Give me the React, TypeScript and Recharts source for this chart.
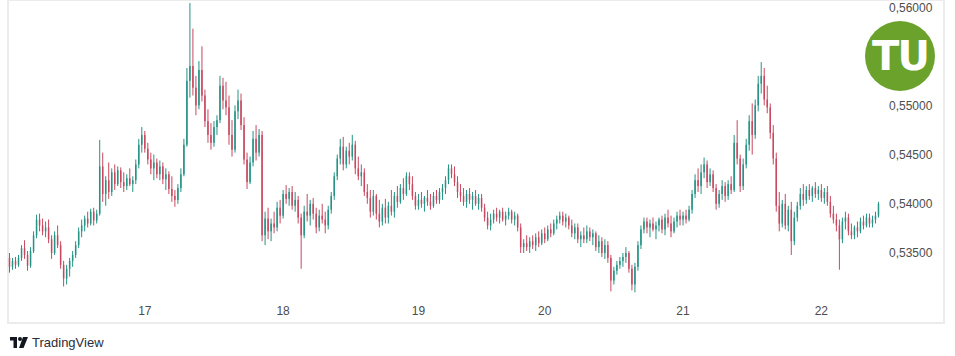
import { Bar, ComposedChart, XAxis, YAxis } from "recharts";

// [open, high, low, close]
type Candle = [number, number, number, number];

const day16: Candle[] = [
  [0.5345, 0.535, 0.533, 0.5336], [0.5336, 0.5345, 0.5333, 0.5342], [0.5342, 0.5346, 0.5334, 0.5338],
  [0.5338, 0.5348, 0.5336, 0.5345], [0.5345, 0.5358, 0.5342, 0.5355], [0.5355, 0.5363, 0.5344, 0.5348],
  [0.5348, 0.5352, 0.5332, 0.5337], [0.5337, 0.5356, 0.5335, 0.5352], [0.5352, 0.5372, 0.535, 0.5368],
  [0.5368, 0.5389, 0.5365, 0.5384], [0.5384, 0.539, 0.5372, 0.5378], [0.5378, 0.5385, 0.5368, 0.5372],
  [0.5372, 0.5382, 0.5366, 0.5376], [0.5376, 0.5384, 0.536, 0.5364], [0.5364, 0.5368, 0.5344, 0.535],
  [0.535, 0.5372, 0.5348, 0.5368], [0.5368, 0.5378, 0.5355, 0.5358], [0.5358, 0.5362, 0.5334, 0.5338],
  [0.5338, 0.5342, 0.5316, 0.5324], [0.5324, 0.5338, 0.5318, 0.5334], [0.5334, 0.5345, 0.5326, 0.5342],
  [0.5342, 0.5352, 0.5336, 0.5348], [0.5348, 0.5362, 0.5345, 0.5358], [0.5358, 0.5376, 0.5355, 0.5372],
  [0.5372, 0.5384, 0.5366, 0.5378], [0.5378, 0.5388, 0.5372, 0.5385], [0.5385, 0.5392, 0.5376, 0.538],
  [0.538, 0.5395, 0.5378, 0.5392], [0.5392, 0.5396, 0.5378, 0.5383], [0.5383, 0.5394, 0.538, 0.539],
  [0.539, 0.5465, 0.5388, 0.5438], [0.5438, 0.5452, 0.5402, 0.541], [0.541, 0.5428, 0.5398, 0.5424],
  [0.5424, 0.5442, 0.5405, 0.5412], [0.5412, 0.5436, 0.5408, 0.5432], [0.5432, 0.544, 0.5414, 0.542],
  [0.542, 0.5438, 0.5418, 0.5434], [0.5434, 0.5437, 0.5416, 0.5422], [0.5422, 0.5432, 0.5412, 0.5418],
  [0.5418, 0.543, 0.5414, 0.5426], [0.5426, 0.5436, 0.5418, 0.542], [0.542, 0.5428, 0.5412, 0.5424],
  [0.5424, 0.5445, 0.542, 0.544], [0.544, 0.5466, 0.5436, 0.546], [0.546, 0.5478, 0.5452, 0.547],
];

const day17: Candle[] = [
  [0.547, 0.5474, 0.5452, 0.5456], [0.5456, 0.5462, 0.544, 0.5445], [0.5445, 0.5452, 0.543, 0.5436],
  [0.5436, 0.545, 0.5424, 0.5442], [0.5442, 0.5446, 0.5426, 0.543], [0.543, 0.5444, 0.5424, 0.5438],
  [0.5438, 0.5442, 0.542, 0.5425], [0.5425, 0.5436, 0.5414, 0.543], [0.543, 0.5433, 0.541, 0.5415],
  [0.5415, 0.5428, 0.5402, 0.5408], [0.5408, 0.5414, 0.5397, 0.5404], [0.5404, 0.542, 0.54, 0.5416],
  [0.5416, 0.5436, 0.5412, 0.543], [0.543, 0.5466, 0.5428, 0.546], [0.546, 0.5538, 0.5458, 0.5525],
  [0.5525, 0.5604, 0.5508, 0.554], [0.554, 0.5578, 0.551, 0.5518], [0.5518, 0.553, 0.549, 0.55],
  [0.55, 0.5545, 0.5496, 0.5536], [0.5536, 0.556, 0.5504, 0.551], [0.551, 0.5516, 0.5478, 0.5484],
  [0.5484, 0.5496, 0.5462, 0.547], [0.547, 0.5482, 0.5455, 0.5462], [0.5462, 0.5484, 0.5458, 0.5478],
  [0.5478, 0.549, 0.547, 0.5485], [0.5485, 0.553, 0.5482, 0.552], [0.552, 0.5528, 0.5496, 0.5505],
  [0.5505, 0.5524, 0.549, 0.5498], [0.5498, 0.551, 0.546, 0.547], [0.547, 0.5485, 0.5448, 0.5455],
  [0.5455, 0.55, 0.5452, 0.5494], [0.5494, 0.5516, 0.5486, 0.5505], [0.5505, 0.5512, 0.5475, 0.548],
  [0.548, 0.5488, 0.544, 0.5445], [0.5445, 0.5452, 0.5415, 0.5422], [0.5422, 0.5448, 0.542, 0.5442],
  [0.5442, 0.5474, 0.5438, 0.5466], [0.5466, 0.548, 0.5444, 0.5452], [0.5452, 0.5476, 0.5448, 0.547],
  [0.547, 0.5474, 0.5362, 0.5368], [0.5368, 0.5392, 0.5358, 0.5385], [0.5385, 0.5396, 0.5364, 0.5372],
  [0.5372, 0.5385, 0.5362, 0.538], [0.538, 0.5392, 0.537, 0.5376], [0.5376, 0.5402, 0.5372, 0.5396],
  [0.5396, 0.5404, 0.538, 0.5388],
];

const day18: Candle[] = [
  [0.5388, 0.5414, 0.5385, 0.541], [0.541, 0.5419, 0.54, 0.5405], [0.5405, 0.5416, 0.5398, 0.5412],
  [0.5412, 0.5418, 0.5394, 0.5398], [0.5398, 0.5412, 0.5392, 0.5404], [0.5404, 0.5408, 0.538, 0.5386],
  [0.5386, 0.539, 0.5334, 0.5368], [0.5368, 0.5398, 0.5365, 0.5392], [0.5392, 0.541, 0.5382, 0.5388],
  [0.5388, 0.5404, 0.5378, 0.54], [0.54, 0.5406, 0.5384, 0.539], [0.539, 0.5396, 0.537, 0.5376],
  [0.5376, 0.5394, 0.5372, 0.5388], [0.5388, 0.54, 0.538, 0.5384], [0.5384, 0.5392, 0.537, 0.5378],
  [0.5378, 0.5398, 0.5374, 0.5394], [0.5394, 0.5412, 0.539, 0.5408], [0.5408, 0.5432, 0.5404, 0.5428],
  [0.5428, 0.545, 0.5424, 0.5446], [0.5446, 0.5466, 0.544, 0.5458], [0.5458, 0.5468, 0.5434, 0.544],
  [0.544, 0.5458, 0.5436, 0.5454], [0.5454, 0.5462, 0.544, 0.5448], [0.5448, 0.547, 0.5444, 0.546],
  [0.546, 0.5464, 0.543, 0.5436], [0.5436, 0.5448, 0.5424, 0.5428], [0.5428, 0.544, 0.5418, 0.5432],
  [0.5432, 0.5436, 0.5408, 0.5412], [0.5412, 0.542, 0.54, 0.5406], [0.5406, 0.5414, 0.5386, 0.5392],
  [0.5392, 0.5414, 0.5388, 0.5408], [0.5408, 0.541, 0.5384, 0.539], [0.539, 0.5404, 0.5376, 0.5382],
  [0.5382, 0.54, 0.5378, 0.5396], [0.5396, 0.5405, 0.538, 0.5386], [0.5386, 0.5402, 0.538, 0.5398],
  [0.5398, 0.5414, 0.5388, 0.5392], [0.5392, 0.5412, 0.5386, 0.5408], [0.5408, 0.5418, 0.5396, 0.5402],
  [0.5402, 0.542, 0.54, 0.5416], [0.5416, 0.5426, 0.5404, 0.541], [0.541, 0.5432, 0.5408, 0.5428],
  [0.5428, 0.5432, 0.5414, 0.542], [0.542, 0.5428, 0.5404, 0.5408], [0.5408, 0.5412, 0.5394, 0.5398],
];

const day19: Candle[] = [
  [0.5398, 0.541, 0.5394, 0.5404], [0.5404, 0.5412, 0.5396, 0.54], [0.54, 0.5408, 0.5392, 0.5406],
  [0.5406, 0.5414, 0.5398, 0.5402], [0.5402, 0.541, 0.5394, 0.5398], [0.5398, 0.5412, 0.5396, 0.5408],
  [0.5408, 0.5414, 0.54, 0.5404], [0.5404, 0.5416, 0.54, 0.5412], [0.5412, 0.542, 0.5404, 0.5416],
  [0.5416, 0.5428, 0.541, 0.5424], [0.5424, 0.544, 0.542, 0.5436], [0.5436, 0.544, 0.5426, 0.543],
  [0.543, 0.5438, 0.5418, 0.5422], [0.5422, 0.5428, 0.5406, 0.5412], [0.5412, 0.542, 0.5402, 0.5408],
  [0.5408, 0.5416, 0.5398, 0.5402], [0.5402, 0.5414, 0.5396, 0.541], [0.541, 0.5416, 0.54, 0.5404],
  [0.5404, 0.5412, 0.5394, 0.5408], [0.5408, 0.5414, 0.5398, 0.54], [0.54, 0.541, 0.5394, 0.5406],
  [0.5406, 0.541, 0.5392, 0.5396], [0.5396, 0.54, 0.5382, 0.5386], [0.5386, 0.5392, 0.5374, 0.5378],
  [0.5378, 0.539, 0.5373, 0.5384], [0.5384, 0.5394, 0.538, 0.539], [0.539, 0.5396, 0.5382, 0.5386],
  [0.5386, 0.5394, 0.538, 0.5392], [0.5392, 0.5396, 0.5382, 0.5384], [0.5384, 0.5392, 0.5378, 0.5388],
  [0.5388, 0.5396, 0.5384, 0.5392], [0.5392, 0.5394, 0.538, 0.5384], [0.5384, 0.5392, 0.5378, 0.5388],
  [0.5388, 0.539, 0.5372, 0.5376], [0.5376, 0.538, 0.535, 0.5356], [0.5356, 0.5364, 0.535, 0.536],
  [0.536, 0.5368, 0.5352, 0.5356], [0.5356, 0.5366, 0.535, 0.5362], [0.5362, 0.5368, 0.5354, 0.5358],
  [0.5358, 0.537, 0.5352, 0.5366], [0.5366, 0.5372, 0.5356, 0.536], [0.536, 0.5374, 0.5358, 0.537],
];

const day20: Candle[] = [
  [0.537, 0.5376, 0.536, 0.5364], [0.5364, 0.5378, 0.5362, 0.5374], [0.5374, 0.538, 0.5366, 0.537],
  [0.537, 0.5384, 0.5368, 0.538], [0.538, 0.5388, 0.5374, 0.5384], [0.5384, 0.5392, 0.538, 0.5388],
  [0.5388, 0.5392, 0.5378, 0.5382], [0.5382, 0.539, 0.5376, 0.5386], [0.5386, 0.5388, 0.5374, 0.5378],
  [0.5378, 0.5384, 0.5366, 0.537], [0.537, 0.538, 0.5364, 0.5376], [0.5376, 0.538, 0.536, 0.5364],
  [0.5364, 0.5372, 0.5356, 0.5368], [0.5368, 0.5376, 0.536, 0.5364], [0.5364, 0.5378, 0.536, 0.5372],
  [0.5372, 0.5376, 0.5362, 0.5366], [0.5366, 0.5374, 0.5358, 0.537], [0.537, 0.5372, 0.5352, 0.5356],
  [0.5356, 0.5368, 0.535, 0.5362], [0.5362, 0.5366, 0.5346, 0.535], [0.535, 0.5364, 0.5344, 0.5358],
  [0.5358, 0.5362, 0.534, 0.5345], [0.5345, 0.5348, 0.5311, 0.5322], [0.5322, 0.5336, 0.5318, 0.5332],
  [0.5332, 0.5342, 0.5328, 0.5338], [0.5338, 0.5346, 0.5334, 0.5342], [0.5342, 0.535, 0.5336, 0.5346],
  [0.5346, 0.5356, 0.534, 0.535], [0.535, 0.5352, 0.533, 0.5334], [0.5334, 0.5338, 0.5312, 0.5318],
  [0.5318, 0.534, 0.531, 0.5336], [0.5336, 0.5362, 0.5332, 0.5358], [0.5358, 0.5378, 0.5354, 0.5374],
  [0.5374, 0.5386, 0.537, 0.5382], [0.5382, 0.5386, 0.537, 0.5376], [0.5376, 0.5384, 0.5366, 0.538],
  [0.538, 0.5386, 0.5372, 0.5374], [0.5374, 0.5382, 0.5364, 0.5378], [0.5378, 0.5386, 0.5372, 0.5384],
  [0.5384, 0.5388, 0.537, 0.5374], [0.5374, 0.539, 0.5368, 0.5386], [0.5386, 0.5394, 0.5376, 0.538],
  [0.538, 0.5388, 0.5366, 0.5372], [0.5372, 0.5386, 0.537, 0.5382], [0.5382, 0.5392, 0.5376, 0.5388],
  [0.5388, 0.5394, 0.5378, 0.5384],
];

const day21: Candle[] = [
  [0.5384, 0.5392, 0.5378, 0.5388], [0.5388, 0.5394, 0.538, 0.5384], [0.5384, 0.5398, 0.5382, 0.5394],
  [0.5394, 0.5414, 0.539, 0.541], [0.541, 0.543, 0.5406, 0.5424], [0.5424, 0.5436, 0.5412, 0.5418],
  [0.5418, 0.544, 0.541, 0.5432], [0.5432, 0.5447, 0.5426, 0.544], [0.544, 0.5444, 0.5416, 0.5422],
  [0.5422, 0.5436, 0.5418, 0.543], [0.543, 0.5434, 0.5412, 0.5416], [0.5416, 0.542, 0.5394, 0.54],
  [0.54, 0.5414, 0.5396, 0.541], [0.541, 0.5424, 0.5404, 0.5418], [0.5418, 0.5422, 0.5402, 0.5408],
  [0.5408, 0.5424, 0.5404, 0.542], [0.542, 0.5428, 0.541, 0.5414], [0.5414, 0.547, 0.5412, 0.5462],
  [0.5462, 0.5485, 0.544, 0.5446], [0.5446, 0.545, 0.5412, 0.5418], [0.5418, 0.5446, 0.5414, 0.544],
  [0.544, 0.5466, 0.5436, 0.546], [0.546, 0.549, 0.5454, 0.5484], [0.5484, 0.5502, 0.545, 0.547],
  [0.547, 0.5506, 0.5466, 0.55], [0.55, 0.553, 0.5494, 0.5522], [0.5522, 0.5544, 0.5512, 0.553],
  [0.553, 0.5538, 0.55, 0.5506], [0.5506, 0.552, 0.5492, 0.5498], [0.5498, 0.5502, 0.5466, 0.5472],
  [0.5472, 0.548, 0.544, 0.5446], [0.5446, 0.5452, 0.5392, 0.5398], [0.5398, 0.5412, 0.5372, 0.538],
  [0.538, 0.5404, 0.5376, 0.54], [0.54, 0.541, 0.5374, 0.5378], [0.5378, 0.5398, 0.5372, 0.5394],
  [0.5394, 0.5402, 0.5348, 0.5362], [0.5362, 0.5392, 0.5358, 0.5386], [0.5386, 0.5402, 0.5382, 0.5398],
  [0.5398, 0.5416, 0.5394, 0.541], [0.541, 0.542, 0.5398, 0.5404], [0.5404, 0.5418, 0.54, 0.5414],
  [0.5414, 0.542, 0.5404, 0.5408], [0.5408, 0.5418, 0.5402, 0.5416], [0.5416, 0.5422, 0.5406, 0.541],
  [0.541, 0.5418, 0.5404, 0.5414],
];

const day22: Candle[] = [
  [0.5414, 0.542, 0.5402, 0.5406], [0.5406, 0.5416, 0.54, 0.5412], [0.5412, 0.5418, 0.5398, 0.5402],
  [0.5402, 0.5408, 0.5386, 0.539], [0.539, 0.5398, 0.538, 0.5384], [0.5384, 0.539, 0.5372, 0.5378],
  [0.5378, 0.5384, 0.5333, 0.5364], [0.5364, 0.5386, 0.536, 0.5382], [0.5382, 0.5392, 0.5374, 0.5386],
  [0.5386, 0.539, 0.5368, 0.5372], [0.5372, 0.538, 0.5364, 0.5368], [0.5368, 0.5378, 0.5364, 0.5376],
  [0.5376, 0.5382, 0.5366, 0.5372], [0.5372, 0.5386, 0.537, 0.5382], [0.5382, 0.5388, 0.5374, 0.5378],
  [0.5378, 0.539, 0.5376, 0.5386], [0.5386, 0.539, 0.5376, 0.538], [0.538, 0.5388, 0.5376, 0.5384],
  [0.5384, 0.5392, 0.538, 0.5388], [0.5388, 0.5402, 0.5386, 0.54],
];

const days = [day16, day17, day18, day19, day20, day21, day22];
const dayLabels = ["16", "17", "18", "19", "20", "21", "22"];
const priceTicks = [0.535, 0.54, 0.545, 0.55, 0.56];

const UP = "#259385";
const DOWN = "#c94860";
const TEXT = "#4d4d4d";

const rows: { idx: number; day: string; o: number; h: number; l: number; c: number; range: [number, number] }[] = [];
const dayStarts: number[] = [];
const dayAt: Record<number, string> = {};
days.forEach((list, d) => {
  if (d > 0) {
    dayStarts.push(rows.length);
    dayAt[rows.length] = dayLabels[d];
  }
  list.forEach(([o, h, l, c]) => {
    rows.push({ idx: rows.length, day: dayLabels[d], o, h, l, c, range: [l, h] });
  });
});

function CandleShape(props: any) {
  const { x, y, width, height, payload } = props;
  if (!payload || height == null) return null;
  const { o, h, l, c } = payload;
  const span = h - l || 1e-9;
  const k = height / span;
  const cx = x + width / 2;
  const top = y + (h - Math.max(o, c)) * k;
  const bodyH = Math.max(1, Math.abs(o - c) * k);
  const color = c >= o ? UP : DOWN;
  return (
    <g>
      <line x1={cx} x2={cx} y1={y} y2={y + height} stroke={color} strokeWidth={1} />
      <rect x={cx - 0.75} y={top} width={1.5} height={bodyH} fill={color} />
    </g>
  );
}

function TvMark() {
  return (
    <svg width="18" height="11" viewBox="0 0 18 11" style={{ display: "block" }}>
      <rect x="0" y="0" width="7" height="3.5" fill="#131722" />
      <rect x="3.5" y="0" width="3.5" height="11" fill="#131722" />
      <circle cx="10" cy="2" r="2" fill="#131722" />
      <polygon points="13,0 18,0 13.5,11 9,11" fill="#131722" />
    </svg>
  );
}

export default function App() {
  return (
    <div
      style={{
        position: "absolute",
        left: 0,
        top: 0,
        width: 955,
        height: 356,
        background: "#ffffff",
        fontFamily: "'Liberation Sans', Arial, sans-serif",
      }}
    >
      <div
        style={{
          position: "absolute",
          left: 7,
          top: -1,
          width: 938,
          height: 325,
          border: "2px solid #ececec",
          boxSizing: "border-box",
        }}
      />
      <div style={{ position: "absolute", left: 0, top: 0 }}>
        <ComposedChart
          width={955}
          height={325}
          data={rows}
          margin={{ top: 0, right: 9, bottom: 0, left: 8 }}
          barCategoryGap={0}
          barGap={0}
        >
          <XAxis
            dataKey="idx"
            type="category"
            ticks={dayStarts}
            interval={0}
            tickFormatter={(v: number) => dayAt[v] ?? ""}
            axisLine={false}
            tickLine={false}
            tickSize={0}
            tickMargin={9}
            height={28}
            tick={{ fill: TEXT, fontSize: 12 }}
          />
          <YAxis
            orientation="right"
            domain={[0.53053, 0.56071]}
            ticks={priceTicks}
            allowDataOverflow
            axisLine={false}
            tickLine={false}
            tickSize={0}
            tickMargin={9}
            width={66}
            tick={{ fill: TEXT, fontSize: 12 }}
            tickFormatter={(v: number) => v.toFixed(5).replace(".", ",")}
          />
          <Bar dataKey="range" shape={CandleShape} isAnimationActive={false} />
        </ComposedChart>
      </div>
      <div
        style={{
          position: "absolute",
          left: 865,
          top: 21,
          width: 70,
          height: 70,
          borderRadius: "50%",
          background: "#6aa22c",
          color: "#ffffff",
          fontWeight: 900,
          fontSize: 40,
          lineHeight: "70px",
          textAlign: "center",
          letterSpacing: -2,
          fontFamily: "'DejaVu Sans', sans-serif",
        }}
      >
        TU
      </div>
      <div
        style={{
          position: "absolute",
          left: 10,
          top: 335,
          display: "flex",
          alignItems: "center",
          gap: 4,
          fontSize: 13,
          color: "#2a2e39",
        }}
      >
        <TvMark />
        <span>TradingView</span>
      </div>
    </div>
  );
}
